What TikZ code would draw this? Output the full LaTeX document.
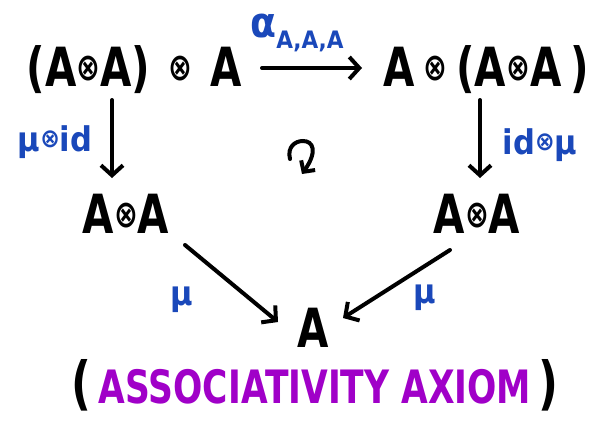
\documentclass[tikz,border=0pt]{standalone}
\usepackage{fontspec}
\newfontfamily\hand[FakeStretch=0.75]{DejaVu Sans Bold}
\newfontfamily\handl[FakeStretch=0.9]{DejaVu Sans Bold}
\usetikzlibrary{arrows.meta}
\definecolor{inkblue}{RGB}{26,72,186}
\definecolor{inkpurple}{RGB}{160,0,200}
\newcommand{\tnsbig}{\raisebox{0.12em}{\fontsize{38}{38}\selectfont ⊗}}
\newcommand{\tnssmall}{\raisebox{0.1em}{\fontsize{26}{26}\selectfont ⊗}}
\begin{document}
\begin{tikzpicture}[x=1pt,y=-1pt,
  obj/.style={font=\hand\fontsize{54}{60}\selectfont, inner sep=0pt, text=black},
  lbl/.style={font=\handl\fontsize{34}{36}\selectfont, inner sep=0pt, text=inkblue},
  arr/.style={line width=4pt, line cap=round, -{Straight Barb[length=10pt,width=22pt]}}]
\useasboundingbox[fill=white] (0,0) rectangle (595,423);
\node[obj] (TL) at (134,70) {(A\tnsbig A)\,\,\tnsbig\,\,A};
\node[obj] (TR) at (486,70) {A\,\tnsbig\,(A\tnsbig A\,)};
\node[obj] (ML) at (126,214) {A\tnsbig A};
\node[obj] (MR) at (477,214) {A\tnsbig A};
\node[obj] (B) at (313,328) {A};
\node[obj, font=\hand\fontsize{46}{56}\selectfont] (cap) at (315,385) {{\fontsize{58}{60}\selectfont(}\,\textcolor{inkpurple}{ASSOCIATIVITY AXIOM}\,{\fontsize{58}{60}\selectfont)}};
\node[lbl] (la) at (297,33) {{\fontsize{42}{42}\selectfont α}\raisebox{-0.3em}{\fontsize{24}{24}\selectfont A,A,A}};
\node[lbl] (ll) at (55,142) {μ\tnssmall id};
\node[lbl] (lr) at (540,145) {id\tnssmall μ};
\node[lbl] (lml) at (182,300) {μ};
\node[lbl] (lmr) at (425,298) {μ};
\draw[arr] ([xshift=128pt,yshift=2pt]TL.center) -- ([xshift=-124pt,yshift=2pt]TR.center);
\draw[arr] ([xshift=-22pt,yshift=-30pt]TL.center) -- ([xshift=-14pt,yshift=36pt]ML.center);
\draw[arr] ([xshift=-6pt,yshift=-30pt]TR.center) -- ([xshift=3pt,yshift=36pt]MR.center);
\draw[arr] ([xshift=59pt,yshift=-31pt]ML.center) -- ([xshift=-35pt,yshift=6pt]B.center);
\draw[arr] ([xshift=-27pt,yshift=-36pt]MR.center) -- ([xshift=30pt,yshift=10pt]B.center);
\draw[line width=4pt, line cap=round, -{Straight Barb[length=8pt,width=17pt]}]
  (290,159) .. controls (287,147) and (295,141) .. (303,141)
  .. controls (313,141) and (318,151) .. (302,174);
\end{tikzpicture}
\end{document}
